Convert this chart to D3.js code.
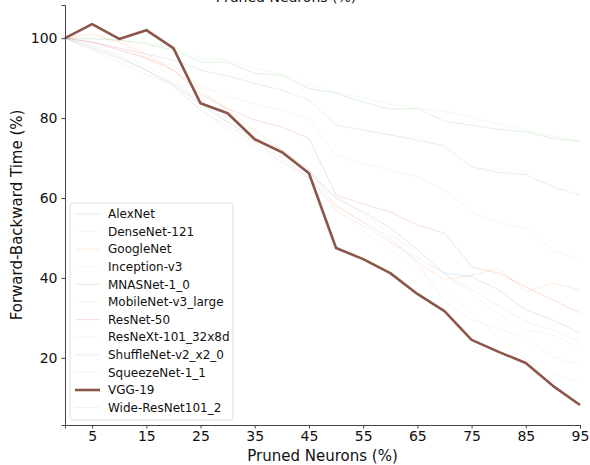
<!DOCTYPE html>
<html>
<head>
<meta charset="utf-8">
<script src="https://cdn.jsdelivr.net/npm/d3@7/dist/d3.min.js"></script>
<style>
  body { margin: 0; background: #fff; }
  svg { font-family: "DejaVu Sans", sans-serif; }
</style>
</head>
<body>
<div id="chart"></div>
<script>
// pruning ratios (%), shared x for every model
const pruned = [0, 5, 10, 15, 20, 25, 30, 35, 40, 45, 50, 55, 60, 65, 70, 75, 80, 85, 90, 95];
const xTicks = [5, 15, 25, 35, 45, 55, 65, 75, 85, 95];
const yTicks = [20, 40, 60, 80, 100];

const models = ["AlexNet", "DenseNet-121", "GoogleNet", "Inception-v3", "MNASNet-1_0",
  "MobileNet-v3_large", "ResNet-50", "ResNeXt-101_32x8d", "ShuffleNet-v2_x2_0",
  "SqueezeNet-1_1", "VGG-19", "Wide-ResNet101_2"];

// forward-backward time (%) per model
const alexnet     = [100, 97.5, 95, 92, 88.5, 83.5, 79, 75, 71, 66.5, 60, 56.5, 52.5, 47, 41.2, 40.3, 37, 32, 29.5, 26.2];
const densenet    = [100, 98.5, 96, 93, 89, 84, 80, 76, 72, 67, 60, 56, 51, 46, 41, 36, 31, 27, 25.7, 22.5];
const googlenet   = [100, 101, 99, 96, 92, 87, 82, 77, 72, 67, 58, 54, 50, 44, 39.5, 40.7, 42.4, 36.6, 38.7, 37];
const inception   = [100, 101.5, 99, 95, 90, 84, 79, 74, 69, 65, 57, 52, 47, 42, 37, 31, 25, 19.5, 16.2, 13.7];
const mnasnet     = [100, 99.8, 99.5, 98.5, 97, 94, 94, 91.2, 90.7, 87.4, 86.2, 84, 82.2, 82.4, 79.2, 78.2, 77.2, 76.6, 74.9, 74.2];
const mobilenet   = [100, 100, 99.5, 99, 97.5, 95, 94.5, 92.5, 91, 88.5, 86.5, 85, 83.5, 82.5, 81.8, 80.2, 78.5, 77, 75.5, 74.2];
const resnet50    = [100, 99, 97, 95, 92, 86, 82.4, 79.5, 77.8, 74.9, 60.7, 58.5, 56.5, 53.2, 51.2, 42.8, 41.2, 37.8, 34.5, 31.2];
const resnext     = [100, 99, 97.5, 95, 93, 88, 85.5, 83.5, 82, 79.9, 70.7, 68.5, 67, 65.3, 62, 56.6, 54, 52.4, 47, 44.5];
const shufflenet  = [100, 99, 97.5, 96, 94.5, 92, 90.5, 88.7, 87, 84.5, 78.2, 77, 75.8, 74.5, 73, 67.8, 66.4, 65.9, 62.8, 60.7];
const squeezenet  = [100, 97, 94, 91, 88, 82, 77, 73, 69, 65, 58, 54, 49, 44, 34, 29.5, 27.5, 24.5, 20.3, 18.2];
const vgg19       = [100, 103.5, 99.8, 102, 97.5, 83.7, 81.2, 74.7, 71.5, 66.2, 47.5, 44.7, 41.2, 36, 31.7, 24.5, 21.5, 18.7, 13, 8.2];
const wideresnet  = [100, 98, 95.5, 92, 88, 82, 78, 74, 70, 65, 57, 53, 49, 45, 41, 37, 33, 29, 27, 24];

const series = [alexnet, densenet, googlenet, inception, mnasnet, mobilenet,
  resnet50, resnext, shufflenet, squeezenet, vgg19, wideresnet];

// tab20 first twelve colours, one per model
const colours = ["#1f77b4", "#aec7e8", "#ff7f0e", "#ffbb78", "#2ca02c", "#98df8a",
  "#d62728", "#ff9896", "#9467bd", "#c5b0d5", "#8c564b", "#c49c94"];

const highlight = "VGG-19";

(function(){
  "use strict";

  let width = 590, height = 465;
  let margin = {top: 5, right: 10, bottom: 40, left: 65};

  let svg = d3.select("#chart").append("svg")
    .attr("width", width).attr("height", height);

  let x = d3.scaleLinear().domain([0, 95]).range([margin.left, width - margin.right]);
  let y = d3.scaleLinear().domain([3.2, 108.3]).range([height - margin.bottom, margin.top]);

  let line = d3.line()
    .x((d, i) => x(pruned[i]))
    .y(d => y(d));

  // faint lines first, highlighted model last so it sits on top
  let order = models.map((m, i) => i).sort((a, b) => (models[a] === highlight) - (models[b] === highlight));

  svg.append("g").selectAll("path")
    .data(order)
    .enter().append("path")
      .attr("d", i => line(series[i]))
      .attr("fill", "none")
      .attr("stroke", i => colours[i])
      .attr("stroke-opacity", i => models[i] === highlight ? 1 : 0.15)
      .attr("stroke-width", i => models[i] === highlight ? 2.6 : 1)
      .attr("stroke-linejoin", "round");

  // axes (only left and bottom spines)
  let xAxis = svg.append("g")
    .attr("transform", `translate(0,${height - margin.bottom})`)
    .call(d3.axisBottom(x).tickValues(xTicks).tickSize(3.5).tickPadding(3));
  let yAxis = svg.append("g")
    .attr("transform", `translate(${margin.left},0)`)
    .call(d3.axisLeft(y).tickValues(yTicks).tickSize(3.5).tickPadding(4));

  [xAxis, yAxis].forEach(ax => {
    ax.select(".domain").attr("stroke", "#444");
    ax.selectAll(".tick line").attr("stroke", "#444");
    ax.selectAll("text").attr("font-size", 14).attr("fill", "#111")
      .attr("font-family", "DejaVu Sans, sans-serif");
  });

  // axis labels
  svg.append("text")
    .attr("x", (margin.left + width - margin.right) / 2)
    .attr("y", height - 4)
    .attr("text-anchor", "middle")
    .attr("font-size", 15)
    .attr("fill", "#111")
    .text("Pruned Neurons (%)");

  svg.append("text")
    .attr("transform", `translate(22,${(margin.top + height - margin.bottom) / 2}) rotate(-90)`)
    .attr("text-anchor", "middle")
    .attr("font-size", 15)
    .attr("fill", "#111")
    .text("Forward-Backward Time (%)");

  // title, mostly above the top edge as in the picture
  svg.append("text")
    .attr("x", 286)
    .attr("y", 1.5)
    .attr("text-anchor", "middle")
    .attr("font-size", 14)
    .attr("fill", "#111")
    .text("Pruned Neurons (%)");

  // legend box
  let lx = 70, ly = 203, rowH = 17.6;
  let legend = svg.append("g");
  legend.append("rect")
    .attr("x", lx).attr("y", ly)
    .attr("width", 163).attr("height", 217)
    .attr("rx", 3)
    .attr("fill", "#fff").attr("fill-opacity", 0.8)
    .attr("stroke", "#ddd");

  let rows = legend.selectAll("g.row")
    .data(models)
    .enter().append("g")
      .attr("class", "row")
      .attr("transform", (d, i) => `translate(${lx},${ly + 11 + i * rowH})`);

  rows.append("line")
    .attr("x1", 5).attr("x2", 30)
    .attr("stroke", (d, i) => colours[i])
    .attr("stroke-opacity", d => d === highlight ? 1 : 0.15)
    .attr("stroke-width", d => d === highlight ? 2.6 : 1);

  rows.append("text")
    .attr("x", 38)
    .attr("dy", "0.35em")
    .attr("font-size", 12)
    .attr("fill", "#111")
    .text(d => d);
})();
</script>
</body>
</html>
